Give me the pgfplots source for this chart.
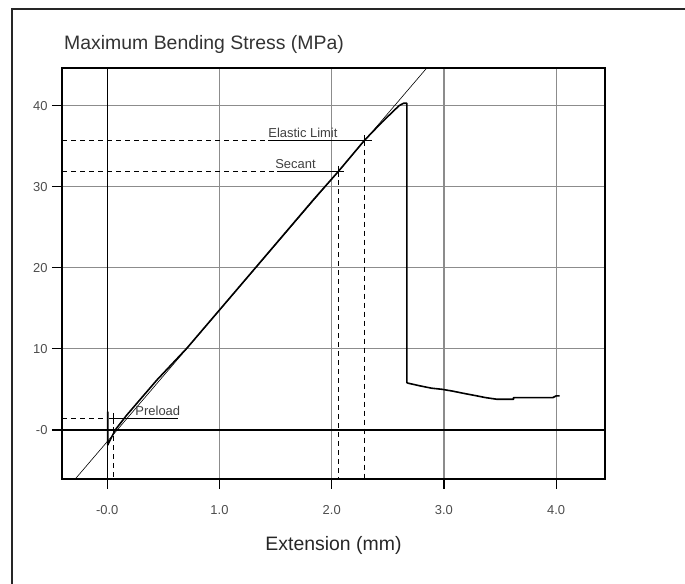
\documentclass[border=0pt]{standalone}
\usepackage{pgfplots}
\pgfplotsset{compat=1.18}
\usepackage{fontspec}
\setmainfont{Liberation Sans}
\begin{document}
\begin{tikzpicture}
\useasboundingbox (0bp,0bp) rectangle (685bp,584bp);
\draw[line width=1.6bp, black!85] (12bp,-20bp) -- (12bp,575bp) -- (720bp,575bp);
\begin{axis}[
  at={(62bp,105bp)}, anchor=south west,
  scale only axis, width=543bp, height=411bp,
  xmin=-0.403, xmax=4.435, ymin=-6.05, ymax=44.65,
  xtick={0,1,2,3,4}, xticklabels={-0.0,1.0,2.0,3.0,4.0},
  ytick={0,10,20,30,40}, yticklabels={-0,10,20,30,40},
  tick pos=left,
  tick align=outside, major tick length=10bp,
  tick style={black, line width=1.2bp},
  grid=major, grid style={black!45, line width=1.2bp},
  axis line style={black, line width=1.5bp},
  ticklabel style={font=\fontsize{13}{13}\selectfont, text=black!70},
  xticklabel style={yshift=-13bp},
  yticklabel style={xshift=-1bp},
  /pgf/number format/assume math mode=true,
  clip=true,
]
% black zero lines
\addplot[black, line width=1.3bp] coordinates {(0,-6.05) (0,44.65)};
\addplot[black, line width=1.3bp] coordinates {(-0.403,0) (4.435,0)};
% modulus line
\addplot[black, line width=0.6bp] coordinates {(-0.285,-6.05) (2.847,44.65)};
% dashed guides
\addplot[black, line width=1.1bp, dash pattern=on 5bp off 4bp] coordinates {(-0.403,35.7) (1.434,35.7)};
\addplot[black, line width=1.1bp, dash pattern=on 5bp off 4bp] coordinates {(2.29,35.7) (2.29,-6.05)};
\addplot[black, line width=1.1bp, dash pattern=on 5bp off 4bp] coordinates {(-0.403,31.9) (1.514,31.9)};
\addplot[black, line width=1.1bp, dash pattern=on 5bp off 4bp] coordinates {(2.06,31.9) (2.06,-6.05)};
\addplot[black, line width=1.1bp, dash pattern=on 5bp off 4bp] coordinates {(-0.403,1.44) (0.0,1.44)};
\addplot[black, line width=1.1bp, dash pattern=on 5bp off 4bp] coordinates {(0.056,1.44) (0.056,-6.05)};
% solid underlines
\addplot[black, line width=1.2bp] coordinates {(1.434,35.7) (2.36,35.7)};
\addplot[black, line width=1.2bp] coordinates {(1.514,31.9) (2.11,31.9)};
\addplot[black, line width=1.2bp] coordinates {(0.02,1.44) (0.632,1.44)};
% main curve
\addplot[black, line width=1.6bp, line join=round] coordinates {
(0.005,2.26) (0.005,-1.85) (0.012,-1.64) (0.071,0) (0.175,1.85) (0.443,6.17)
(0.71,10.09) (1.318,19.96) (1.837,28.4) (2.06,31.9) (2.29,35.7) (2.45,38.0)
(2.60,40.0) (2.64,40.3) (2.67,40.3) (2.67,5.84) (2.68,5.77) (2.79,5.43)
(2.89,5.15) (2.98,5.02) (3.07,4.81) (3.17,4.53) (3.28,4.24) (3.37,3.99)
(3.47,3.79) (3.62,3.79) (3.62,3.99) (3.97,3.99) (4.00,4.20) (4.03,4.20)
};
% cross marks
\addplot[only marks, mark=|, mark size=5.5bp, black, line width=1.3bp] coordinates {(2.29,35.7) (2.06,31.9) (0.056,1.44)};
% labels
\node[anchor=south west, inner sep=0pt, font=\fontsize{13}{13}\selectfont, text=black!75] at (axis cs:1.434,36.0) {Elastic Limit};
\node[anchor=south west, inner sep=0pt, font=\fontsize{13}{13}\selectfont, text=black!75] at (axis cs:1.496,32.2) {Secant};
\node[anchor=south west, inner sep=0pt, font=\fontsize{13}{13}\selectfont, text=black!75] at (axis cs:0.25,1.74) {Preload};
\end{axis}
\node[anchor=base west, inner sep=0pt, font=\fontsize{19.5}{20}\selectfont, text=black!80] at (64bp,534bp) {Maximum Bending Stress (MPa)};
\node[anchor=base, inner sep=0pt, font=\fontsize{19.5}{20}\selectfont, text=black!85] at (333.5bp,34bp) {Extension (mm)};
\end{tikzpicture}
\end{document}
